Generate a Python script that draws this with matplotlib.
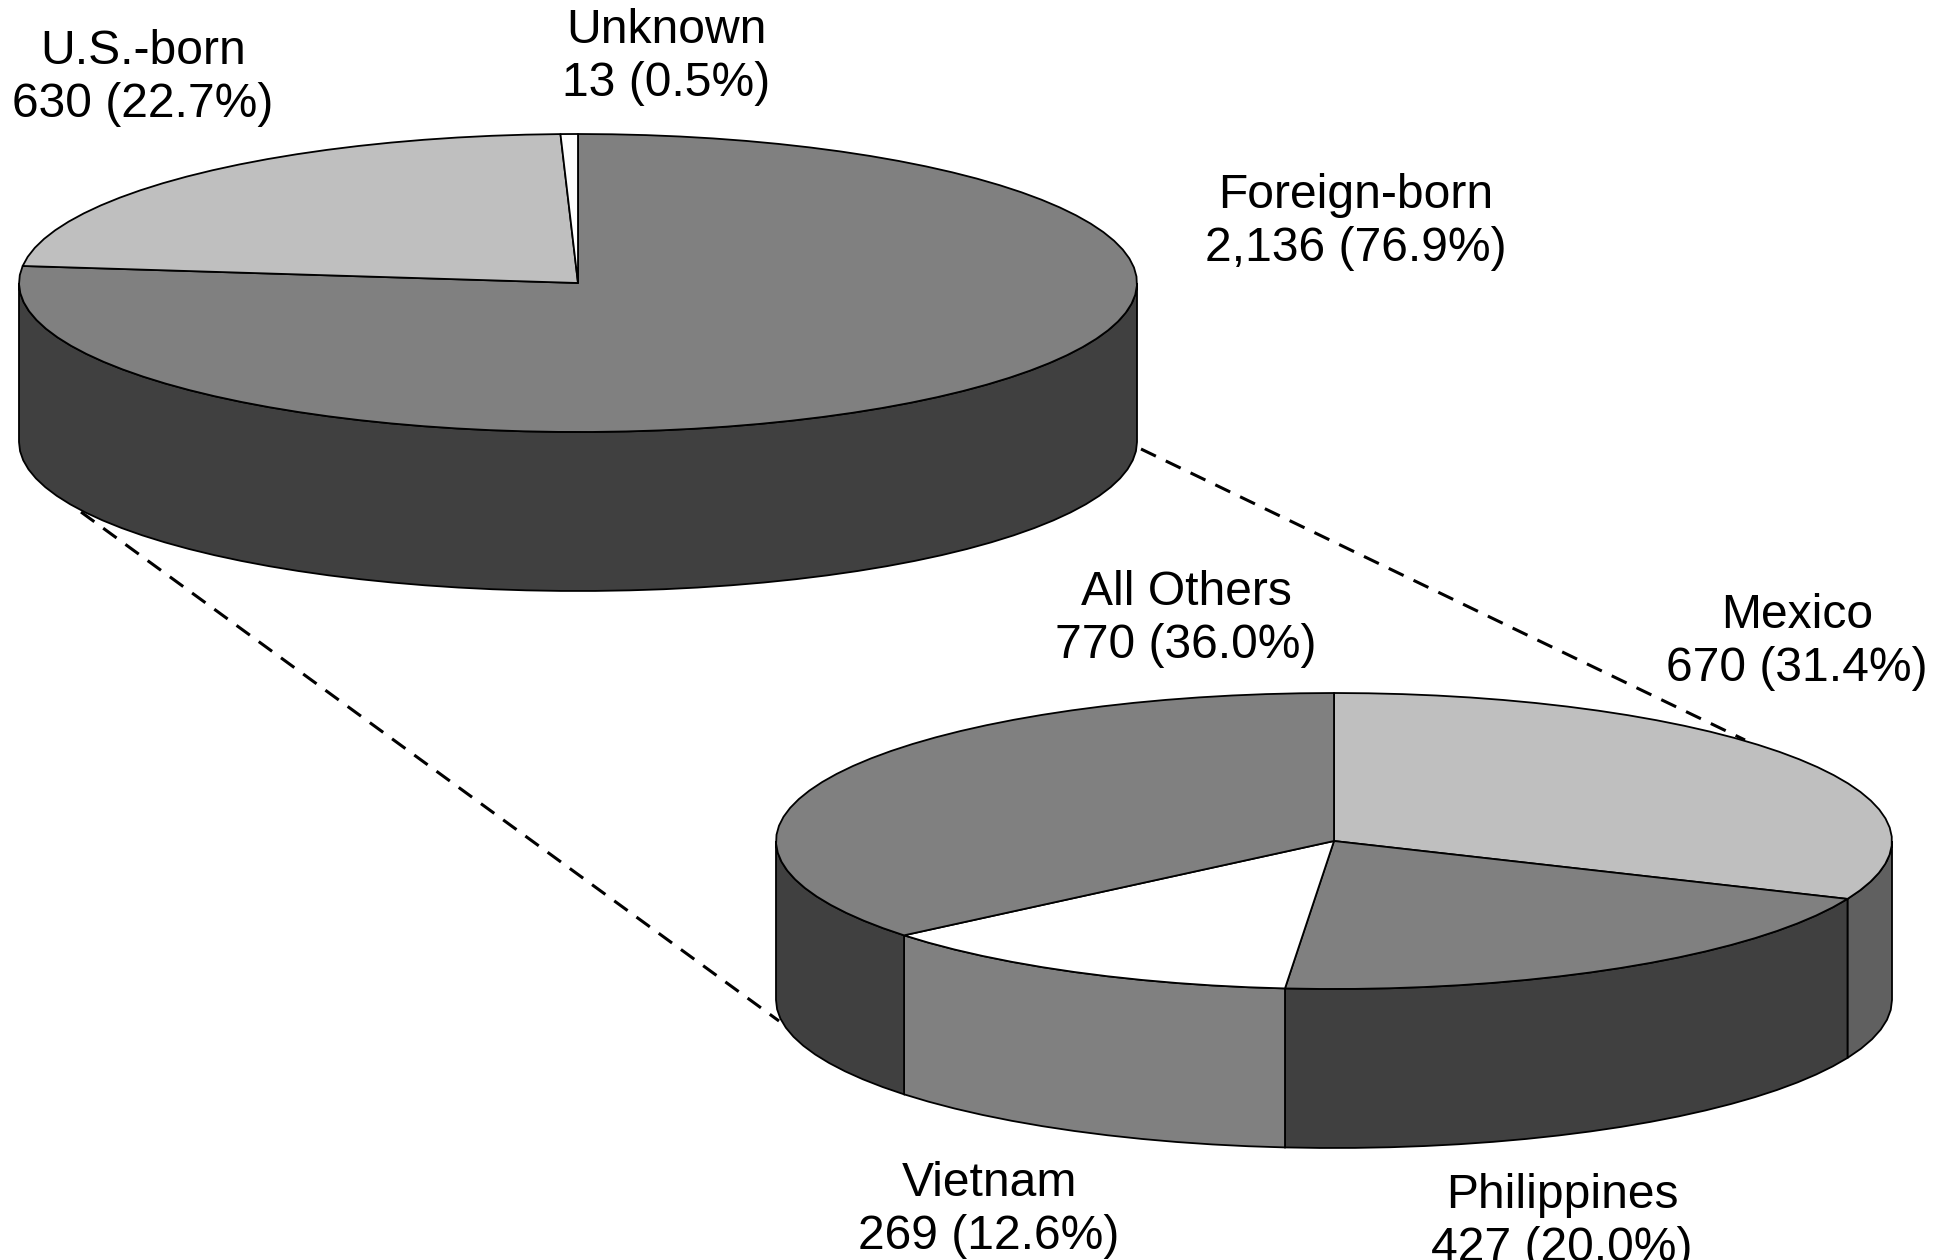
import numpy as np
import matplotlib
matplotlib.use("Agg")
import matplotlib.pyplot as plt
from matplotlib.patches import Polygon

plt.rcParams['font.family'] = ['Liberation Sans', 'DejaVu Sans']

# Data
upper_names = ["Foreign-born", "U.S.-born", "Unknown"]
upper_counts = ["2,136", "630", "13"]
upper_pct = [76.9, 22.7, 0.5]
lower_names = ["Mexico", "Philippines", "Vietnam", "All Others"]
lower_counts = ["670", "427", "269", "770"]
lower_pct = [31.4, 20.0, 12.6, 36.0]

# Styles
upper_top = ["#808080", "#bfbfbf", "#ffffff"]
upper_side = ["#404040", "#606060", "#808080"]
lower_top = ["#bfbfbf", "#808080", "#ffffff", "#808080"]
lower_side = ["#606060", "#404040", "#808080", "#404040"]
LW = 1.3
FS = 34.6
STEP_DEG = 3.5

fig = plt.figure(figsize=(19.34, 12.60), dpi=100, facecolor="white")
ax = fig.add_axes([0, 0, 1, 1])
ax.set_xlim(0, 1934)
ax.set_ylim(1260, 0)
ax.axis("off")


def arc(a_from, a_to):
    n = max(2, int(abs(a_from - a_to) / STEP_DEG) + 1)
    return np.radians(np.linspace(a_from, a_to, n))


def pie3d(cx, cy, rx, ry, depth, pct, top, side):
    shares = np.asarray(pct, dtype=float)
    edges = 90 - 360 * np.concatenate([[0], np.cumsum(shares / shares.sum())])
    for a0, a1, sc in zip(edges[:-1], edges[1:], side):
        lo, hi = max(a1, -180), min(a0, 0)
        if hi > lo:
            t = arc(hi, lo)
            x = cx + rx * np.cos(t)
            y = cy - ry * np.sin(t)
            ax.add_patch(Polygon(
                np.r_[np.c_[x, y], np.c_[x, y + depth][::-1]],
                closed=True, fc=sc, ec="black", lw=LW, zorder=2))
    for a0, a1, tc in zip(edges[:-1], edges[1:], top):
        t = arc(a0, a1)
        x = cx + rx * np.cos(t)
        y = cy - ry * np.sin(t)
        ax.add_patch(Polygon(
            np.r_[[[cx, cy]], np.c_[x, y]],
            closed=True, fc=tc, ec="black", lw=LW, joinstyle="round", zorder=3))


pie3d(578, 283, 559, 149, 159, upper_pct, upper_top, upper_side)
pie3d(1334, 841, 558, 148, 159, lower_pct, lower_top, lower_side)

# connector lines between the two pies
DASH = (0, (5.4, 3.6))
ax.plot([1141, 1745], [449, 740], color="black", lw=2.2, ls=DASH, zorder=1)
ax.plot([81, 779], [512, 1021], color="black", lw=2.2, ls=DASH, zorder=1)


def label(x, y, name, count, pct):
    ax.text(x, y, f"{name}\n{count} ({pct:.1f}%)", ha="center", va="center",
            fontsize=FS, linespacing=1.23, color="black", zorder=5)


label(1356, 222, upper_names[0], upper_counts[0], upper_pct[0])
label(143, 78, upper_names[1], upper_counts[1], upper_pct[1])
label(666, 57, upper_names[2], upper_counts[2], upper_pct[2])
label(1797, 642, lower_names[0], lower_counts[0], lower_pct[0])
label(1562, 1222, lower_names[1], lower_counts[1], lower_pct[1])
label(989, 1210, lower_names[2], lower_counts[2], lower_pct[2])
label(1186, 619, lower_names[3], lower_counts[3], lower_pct[3])

fig.savefig("out.png", dpi=100, facecolor="white")
